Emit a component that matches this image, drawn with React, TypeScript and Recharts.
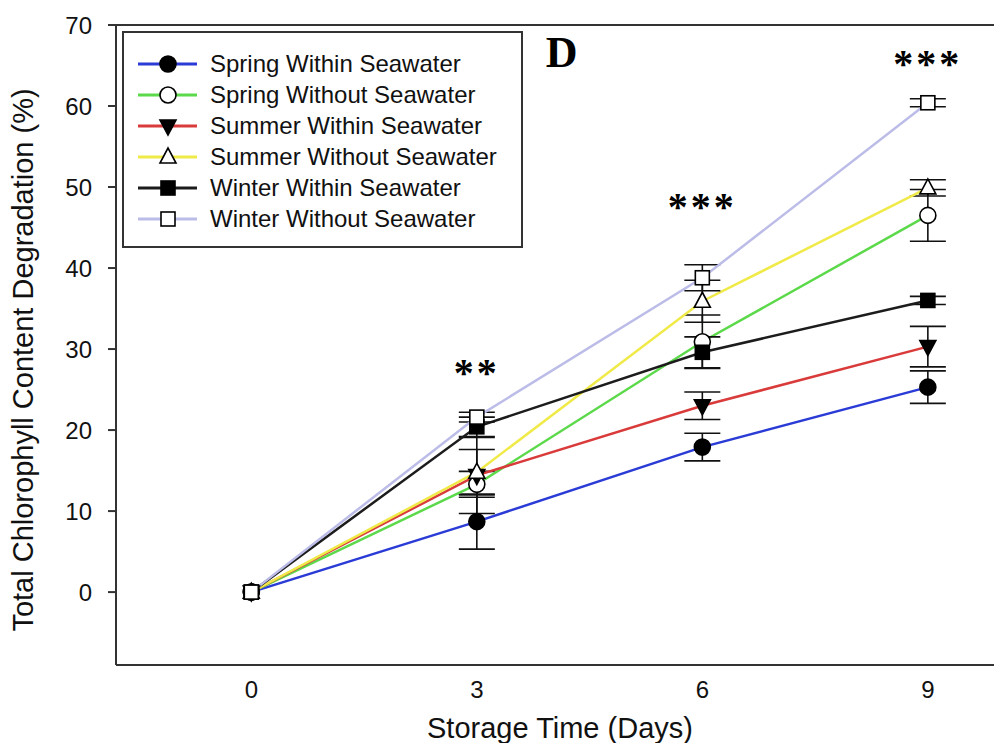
import React from 'react'
import { LineChart, Line, XAxis, YAxis, ErrorBar, ReferenceLine, ReferenceDot, Legend } from 'recharts'

// storage days and series values (%)
const days = [0, 3, 6, 9]

const springWithin = [0, 8.7, 17.9, 25.3]
const springWithinErr = [null, 3.4, 1.7, 2.0]
const springWithout = [0, 13.3, 30.9, 46.5]
const springWithoutErr = [null, 1.6, 3.3, 3.2]
const summerWithin = [0, 14.4, 23.0, 30.3]
const summerWithinErr = [null, 4.7, 1.7, 2.5]
const summerWithout = [0, 14.8, 35.9, 49.9]
const summerWithoutErr = [null, 2.8, 2.6, 1.0]
const winterWithin = [0, 20.4, 29.6, 36.0]
const winterWithinErr = [null, 1.2, 1.9, 0.5]
const winterWithout = [0, 21.6, 38.8, 60.4]
const winterWithoutErr = [null, 0.6, 1.6, 0.5]

const yTicks = [0, 10, 20, 30, 40, 50, 60, 70]
const xTicks = [0, 3, 6, 9]

// significance marks above each day
const stars = [
  { x: 3, y: 27.6, text: '**' },
  { x: 6, y: 48.2, text: '***' },
  { x: 9, y: 65.8, text: '***' },
]

type Shape = 'circle' | 'square' | 'triDown' | 'triUp'

const series = [
  { key: 'springWithin', name: 'Spring Within Seawater', values: springWithin, err: springWithinErr, color: '#2a3bd6', shape: 'circle' as Shape, filled: true },
  { key: 'springWithout', name: 'Spring Without Seawater', values: springWithout, err: springWithoutErr, color: '#5cd94a', shape: 'circle' as Shape, filled: false },
  { key: 'summerWithin', name: 'Summer Within Seawater', values: summerWithin, err: summerWithinErr, color: '#d93a3a', shape: 'triDown' as Shape, filled: true },
  { key: 'summerWithout', name: 'Summer Without Seawater', values: summerWithout, err: summerWithoutErr, color: '#f0ea48', shape: 'triUp' as Shape, filled: false },
  { key: 'winterWithin', name: 'Winter Within Seawater', values: winterWithin, err: winterWithinErr, color: '#1c1c1c', shape: 'square' as Shape, filled: true },
  { key: 'winterWithout', name: 'Winter Without Seawater', values: winterWithout, err: winterWithoutErr, color: '#bcbce8', shape: 'square' as Shape, filled: false },
]

const data = days.map((d, i) => {
  const row: any = { day: d }
  series.forEach(s => {
    row[s.key] = s.values[i]
    if (s.err[i] != null) row[s.key + 'Err'] = s.err[i]
  })
  return row
})

const SANS = '"Liberation Sans", Arial, sans-serif'
const SERIF = '"Liberation Serif", "Times New Roman", serif'

function drawMarker(shape: Shape, filled: boolean, cx: number, cy: number, key?: any) {
  const fill = filled ? '#000' : '#fff'
  const common = { fill, stroke: '#000', strokeWidth: 1.6 }
  if (shape === 'circle') return <circle key={key} cx={cx} cy={cy} r={8} {...common} />
  if (shape === 'square') return <rect key={key} x={cx - 7} y={cy - 7} width={14} height={14} {...common} />
  if (shape === 'triDown')
    return <path key={key} d={`M${cx - 8},${cy - 6} L${cx + 8},${cy - 6} L${cx},${cy + 9} Z`} {...common} />
  return <path key={key} d={`M${cx - 8},${cy + 6} L${cx + 8},${cy + 6} L${cx},${cy - 9} Z`} {...common} />
}

const makeDot = (shape: Shape, filled: boolean) => (props: any) => {
  const { cx, cy, index } = props
  if (cx == null || cy == null) return <g key={index} />
  return drawMarker(shape, filled, cx, cy, index)
}

function LegendBox() {
  return (
    <div
      style={{
        width: 397,
        height: 198,
        border: '2px solid #333',
        background: '#fff',
        fontFamily: SANS,
        fontSize: 24,
        color: '#111',
        boxSizing: 'content-box',
        paddingTop: 15,
      }}
    >
      {series.map(s => (
        <div key={s.key} style={{ display: 'flex', alignItems: 'center', height: 31 }}>
          <svg width={86} height={24} style={{ flex: 'none' }}>
            <line x1={14} x2={73} y1={12} y2={12} stroke={s.color} strokeWidth={3} />
            {drawMarker(s.shape, s.filled, 44, 12)}
          </svg>
          <span style={{ whiteSpace: 'nowrap' }}>{s.name}</span>
        </div>
      ))}
    </div>
  )
}

export default function App() {
  return (
    <div style={{ position: 'absolute', left: 0, top: 0, width: 994, height: 743, overflow: 'hidden', background: '#fff' }}>
      <LineChart width={994} height={743} data={data} margin={{ top: 25, right: 0, bottom: 18, left: 0 }}>
        <XAxis
          dataKey="day"
          type="number"
          domain={[-1.8, 9.88]}
          ticks={xTicks}
          tickLine={false}
          tickMargin={10}
          height={60}
          axisLine={{ stroke: '#333', strokeWidth: 2 }}
          tick={{ fill: '#111', fontSize: 24, fontFamily: SANS }}
          label={{
            content: () => (
              <text x={560} y={738} textAnchor="middle" fill="#111" fontSize={29} fontFamily={SANS}>
                Storage Time (Days)
              </text>
            ),
          }}
        />
        <YAxis
          type="number"
          domain={[-9, 70]}
          ticks={yTicks}
          width={116}
          tickSize={8}
          tickMargin={16}
          allowDataOverflow
          axisLine={{ stroke: '#333', strokeWidth: 2 }}
          tickLine={{ stroke: '#333', strokeWidth: 2 }}
          tick={{ fill: '#111', fontSize: 24, fontFamily: SANS }}
          label={{
            content: () => (
              <text
                x={33}
                y={360}
                transform="rotate(-90, 33, 360)"
                textAnchor="middle"
                fill="#111"
                fontSize={29}
                fontFamily={SANS}
              >
                Total Chlorophyll Content Degradation (%)
              </text>
            ),
          }}
        />
        <ReferenceLine y={70} stroke="#333" strokeWidth={2} ifOverflow="visible" />
        {series.map(s => (
          <Line
            key={s.key}
            dataKey={s.key}
            name={s.name}
            stroke={s.color}
            strokeWidth={2.5}
            type="linear"
            isAnimationActive={false}
            dot={makeDot(s.shape, s.filled)}
            activeDot={false}
          >
            <ErrorBar dataKey={s.key + 'Err'} width={18} stroke="#111" strokeWidth={1.6} direction="y" />
          </Line>
        ))}
        {stars.map(st => (
          <ReferenceDot
            key={st.x}
            x={st.x}
            y={st.y}
            r={0}
            ifOverflow="visible"
            shape={(p: any) => (
              <text
                x={p.cx}
                y={p.cy + 18}
                textAnchor="middle"
                fontFamily={SERIF}
                fontWeight="bold"
                fontSize={40}
                letterSpacing={3}
                fill="#000"
              >
                {st.text}
              </text>
            )}
          />
        ))}
        <ReferenceDot
          x={4.13}
          y={64.8}
          r={0}
          ifOverflow="visible"
          shape={(p: any) => (
            <text x={p.cx} y={p.cy} textAnchor="middle" fontFamily={SERIF} fontWeight="bold" fontSize={44} fill="#000">
              D
            </text>
          )}
        />
        <Legend
          layout="vertical"
          align="center"
          verticalAlign="middle"
          wrapperStyle={{ position: 'absolute', left: 122, top: 31, width: 401, height: 217 }}
          content={() => <LegendBox />}
        />
      </LineChart>
    </div>
  )
}
